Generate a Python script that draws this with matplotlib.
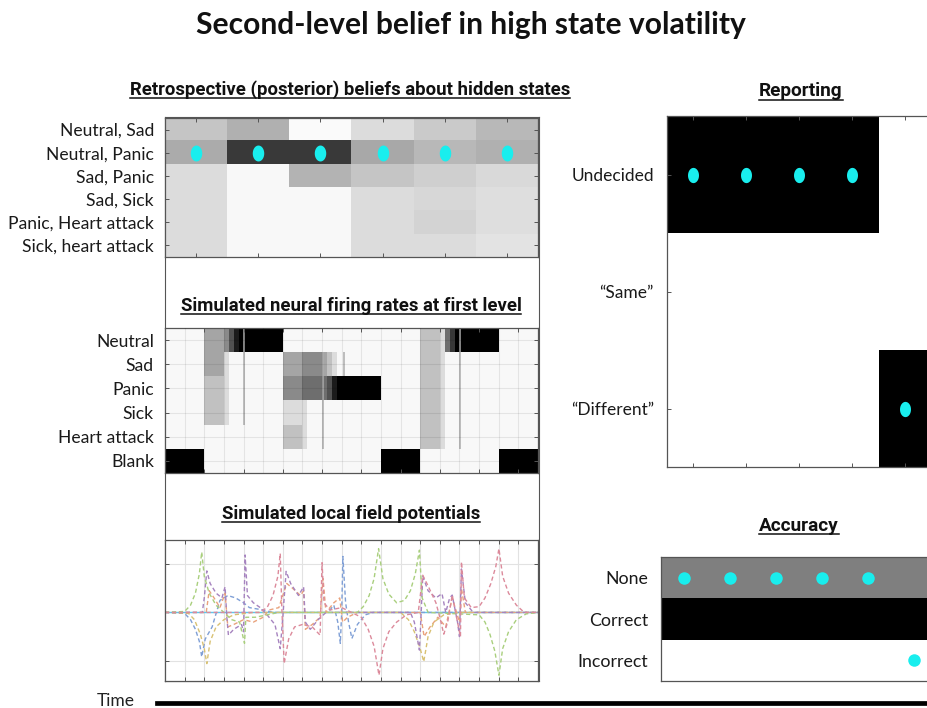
import numpy as np
import matplotlib.pyplot as plt
from matplotlib import font_manager
from matplotlib.lines import Line2D

plt.rcParams['font.family'] = ['Lato', 'DejaVu Sans']

installed = {f.name for f in font_manager.fontManager.ttflist}
HEAD_FONT = 'Liberation Sans Narrow' if 'Liberation Sans Narrow' in installed else 'Roboto'

# ---------------- data ----------------
belief_states = ['Neutral, Sad', 'Neutral, Panic', 'Sad, Panic', 'Sad, Sick',
                 'Panic, Heart attack', 'Sick, heart attack']
# posterior belief for each second-level state (rows) over the six trials
beliefs = [
    [0.23, 0.31, 0.02, 0.14, 0.21, 0.28],
    [0.33, 0.77, 0.77, 0.34, 0.28, 0.31],
    [0.14, 0.03, 0.30, 0.23, 0.19, 0.15],
    [0.14, 0.03, 0.03, 0.14, 0.16, 0.13],
    [0.14, 0.03, 0.03, 0.14, 0.17, 0.13],
    [0.14, 0.03, 0.03, 0.14, 0.14, 0.11],
]
true_state = [1, 1, 1, 1, 1, 1]

first_states = ['Neutral', 'Sad', 'Panic', 'Sick', 'Heart attack', 'Blank']
# firing rates: 19 time bins, 4 digits per bin (0 = silent .. 9 = maximal)
firing_rows = [
    '0000 0000 3333 4689 9999 9999 0000 0000 0000 0000 0000 0000 0000 2222 1579 9999 9999 0000 0000',
    '0000 0000 3333 1000 0000 0000 3333 4444 3210 0000 0000 0000 0000 2222 1000 0000 0000 0000 0000',
    '0000 0000 2222 1000 0000 0000 4444 5555 5689 9999 9999 0000 0000 2222 1000 0000 0000 0000 0000',
    '0000 0000 2222 1000 0000 0000 1111 1000 0000 0000 0000 0000 0000 2222 1000 0000 0000 0000 0000',
    '0000 0000 0000 0000 0000 0000 2222 1000 0000 0000 0000 0000 0000 2222 1000 0000 0000 0000 0000',
    '9999 9999 0000 0000 0000 0000 0000 0000 0000 0000 0000 9999 9999 0000 0000 0000 0000 9999 9999',
]
# brief transients (time, first row, last row)
flash_t = [4.0, 8.05, 9.1, 15.05]
flash_top = [0, 1, 1, 0]
flash_bottom = [3, 4, 1, 4]

# local field potentials (time bin, potential)
lfp_green = [(0, 0), (1.0, 0.02), (1.3, 0.15), (1.55, 0.4), (1.75, 0.8), (1.87, 1.25), (2.0, 0.75),
             (2.25, 0.4), (2.6, 0.15), (3.0, 0.0), (3.4, -0.15), (3.8, -0.2), (4.05, -0.64), (4.12, -0.1),
             (4.6, -0.1), (5.2, -0.05), (5.8, 0.0), (9.8, 0.0), (10.1, 0.12), (10.4, 0.35), (10.65, 0.7),
             (10.88, 1.32), (11.1, 0.7), (11.4, 0.38), (11.8, 0.2), (12.2, 0.25), (12.5, 0.45), (12.75, 0.8),
             (12.96, 1.29), (13.1, 0.3), (13.4, 0.0), (16.0, -0.05), (16.3, -0.2), (16.55, -0.45),
             (16.8, -0.8), (17.01, -1.3), (17.2, -0.75), (17.5, -0.4), (17.9, -0.15), (18.4, -0.03), (19, 0)]
lfp_yellow = [(0, 0), (1.2, -0.02), (1.5, -0.15), (1.8, -0.45), (2.0, -0.75), (2.13, -1.06), (2.3, -0.6),
              (2.6, -0.3), (3.0, -0.15), (3.5, -0.05), (4.5, 0.0), (12.0, 0.0), (12.4, -0.15), (12.7, -0.4),
              (13.0, -0.75), (13.18, -1.02), (13.4, -0.5), (13.7, -0.2), (14.2, -0.05), (15, 0), (19, 0)]
lfp_pink = [(0, 0), (4.8, 0.0), (5.2, 0.1), (5.5, 0.35), (5.75, 0.75), (5.87, 1.22), (5.95, 0.1), (6.07, -1.06),
            (6.3, -0.55), (6.6, -0.3), (7.0, -0.25), (7.5, -0.3), (7.9, -0.47), (8.0, 1.03), (8.1, 0.2),
            (8.4, 0.05), (9.0, 0.1), (9.5, 0.0), (10.0, -0.1), (10.35, -0.35), (10.65, -0.7), (10.9, -1.3),
            (11.1, -0.75), (11.4, -0.4), (11.8, -0.2), (12.3, -0.05), (12.9, 0.0), (13.13, 0.77), (13.4, 0.55),
            (13.8, 0.2), (14.0, -0.1), (14.2, -0.45), (14.4, -0.2), (14.63, 0.36), (14.85, -0.1), (15.05, -0.5),
            (15.1, 1.05), (15.25, 0.3), (15.6, 0.1), (16.0, 0.12), (16.3, 0.3), (16.6, 0.6), (16.85, 0.95),
            (17.01, 1.32), (17.2, 0.75), (17.5, 0.4), (17.9, 0.15), (18.3, 0.0), (19, 0)]
lfp_purple = [(0, 0), (1.9, 0.0), (2.0, 0.3), (2.13, 0.86), (2.3, 0.6), (2.6, 0.4), (2.9, 0.3), (3.06, 0.53),
              (3.15, -0.1), (3.23, -0.47), (3.5, -0.35), (3.9, -0.25), (4.0, -0.4), (4.08, 1.19), (4.2, 0.35),
              (4.5, 0.2), (4.85, 0.1), (5.2, -0.05), (5.6, -0.25), (5.87, -0.75), (6.0, -0.1), (6.17, 0.85),
              (6.4, 0.6), (6.8, 0.35), (7.06, 0.53), (7.15, -0.2), (7.4, -0.35), (7.8, -0.15), (8.2, 0.0),
              (12.5, 0.0), (12.7, -0.2), (12.96, -0.78), (13.05, 0.0), (13.13, 0.75), (13.4, 0.45), (13.8, 0.3),
              (14.11, 0.39), (14.3, 0.0), (14.5, 0.3), (14.63, 0.36), (14.9, -0.2), (15.0, -0.5), (15.1, 0.9),
              (15.3, 0.2), (15.7, 0.0), (19, 0)]
lfp_blue = [(0, 0), (1.0, -0.02), (1.3, -0.15), (1.55, -0.35), (1.75, -0.6), (1.87, -0.92), (2.05, -0.55),
            (2.4, -0.3), (2.8, 0.25), (3.2, 0.35), (3.6, 0.3), (4.0, 0.2), (4.3, 0.1), (5.0, 0.05), (5.5, 0.0),
            (8.3, 0.0), (8.6, 0.15), (8.8, -0.2), (8.93, -0.64), (9.0, 0.0), (9.06, 1.16), (9.2, 0.2),
            (9.35, -0.2), (9.52, -0.54), (9.8, -0.25), (10.2, -0.05), (10.6, 0.0), (19, 0)]
lfp_orange = [(0, 0), (2.1, 0.0), (2.25, 0.45), (2.5, 0.3), (2.8, 0.1), (3.06, 0.4), (3.2, -0.3), (3.5, -0.25),
              (4.0, -0.15), (4.5, -0.2), (5.0, -0.1), (5.3, 0.05), (5.8, 0.1), (6.2, 0.6), (6.5, 0.5),
              (6.9, 0.35), (7.06, 0.45), (7.15, -0.35), (7.5, -0.25), (7.9, -0.1), (8.05, 0.7), (8.2, 0.0),
              (8.6, 0.2), (8.9, 0.3), (9.05, -0.2), (9.3, -0.1), (9.8, 0.0), (13.0, 0.0), (13.2, -0.5),
              (13.5, -0.3), (13.9, -0.1), (14.3, -0.3), (14.63, 0.3), (15.0, -0.2), (15.1, 0.5), (15.3, 0.0),
              (19, 0)]
lfp_baseline = [(0, 0), (19, 0)]

report_options = ['Undecided', '\u201cSame\u201d', '\u201cDifferent\u201d']
report = [
    [1, 1, 1, 1, 0, 0],
    [0, 0, 0, 0, 0, 0],
    [0, 0, 0, 0, 1, 1],
]
report_choice = [0, 0, 0, 0, 2, 2]

accuracy_options = ['None', 'Correct', 'Incorrect']
accuracy = [
    [0.5, 0.5, 0.5, 0.5, 0.5, 0.5],
    [1, 1, 1, 1, 1, 1],
    [0, 0, 0, 0, 0, 0],
]
accuracy_outcome = [0, 0, 0, 0, 0, 2]

# ---------------- layout helpers ----------------
W, H = 928, 708
CYAN = '#19eeee'
EDGE = '#555555'
theta = np.linspace(0, 2 * np.pi, 41)
OVAL = np.column_stack([0.72 * np.cos(theta), np.sin(theta)])

fig = plt.figure(figsize=(W / 100, H / 100), dpi=100)
renderer = fig.canvas.get_renderer()


def box(x0, y0, x1, y1):
    return [x0 / W, 1 - y1 / H, (x1 - x0) / W, (y1 - y0) / H]


def style(ax, pad=8, size=12.6):
    ax.tick_params(direction='in', length=3, width=0.7, color=EDGE, top=True, right=True,
                   labelbottom=False, labelsize=size, pad=pad, labelcolor='#1a1a1a')
    for s in ax.spines.values():
        s.set_color(EDGE)
        s.set_linewidth(0.9)


def heading(px, py, s, width):
    # bold underlined panel heading, sized to span the given pixel width
    t = fig.text(px / W, 1 - py / H, s, ha='center', va='baseline', family=HEAD_FONT,
                 weight='bold', size=10, color='#111111')
    t.set_fontsize(10 * width / t.get_window_extent(renderer).width)
    bb = t.get_window_extent(renderer)
    y = 1 - (py + 3) / H
    fig.add_artist(Line2D([bb.x0 / W, bb.x1 / W], [y, y], transform=fig.transFigure,
                          color='#111111', lw=1.1))


# frame around the left column
frame = fig.add_axes(box(165, 117, 539, 681))
frame.set_xticks([])
frame.set_yticks([])
for s in frame.spines.values():
    s.set_color(EDGE)

# ---- posterior beliefs ----
ax = fig.add_axes(box(165, 118, 538, 257))
ax.imshow(beliefs, cmap='gray_r', vmin=0, vmax=1, aspect='auto', interpolation='nearest')
ax.plot(range(len(true_state)), true_state, ls='none', marker=OVAL, ms=11.5, mew=0, color=CYAN)
ax.set_xticks(range(6))
ax.set_yticks(range(6))
ax.set_yticklabels(belief_states)
ax.set_xlim(-0.5, 5.5)
ax.set_ylim(5.5, -0.5)
style(ax)

# ---- first level firing rates ----
ax = fig.add_axes(box(165, 328, 538, 473))
rates = np.array([[int(c) for c in row.replace(' ', '')] for row in firing_rows]) / 9
ax.imshow(rates, cmap='gray_r', vmin=-0.03, vmax=1, aspect='auto', interpolation='nearest',
          extent=(0, 19, 5.5, -0.5))
ax.vlines(flash_t, np.array(flash_top) - 0.5, np.array(flash_bottom) + 0.5, color='#adadad', lw=1.1)
ax.set_xticks(range(2, 19, 2))
ax.set_xticks(range(1, 19), minor=True)
ax.set_yticks(range(6))
ax.set_yticklabels(first_states)
ax.set_xlim(0, 19)
ax.set_ylim(5.5, -0.5)
style(ax)
ax.tick_params(which='minor', length=0)
ax.set_axisbelow(False)
ax.grid(which='both', color='black', alpha=0.08, lw=0.8)

# ---- local field potentials ----
ax = fig.add_axes(box(165, 540, 538, 681))
traces = [(lfp_baseline, '#5cc8ee', '-'), (lfp_blue, '#7f9fd6', '--'), (lfp_orange, '#e9a27c', '--'),
          (lfp_yellow, '#d8c173', '--'), (lfp_purple, '#a683bf', '--'), (lfp_green, '#a9cf7d', '--'),
          (lfp_pink, '#dc8a9b', '--')]
for pts, col, ls in traces:
    t, v = zip(*pts)
    ax.plot(t, v, color=col, ls=ls, lw=1.0, dashes=(3, 2) if ls == '--' else (None, None))
ax.set_xlim(0, 19)
ax.set_ylim(-1.42, 1.5)
ax.set_xticks(range(1, 19))
ax.set_yticks([-1, 0, 1])
ax.tick_params(labelleft=False)
style(ax)
ax.set_axisbelow(True)
ax.grid(color='#e2e2e2', lw=0.8)

# ---- reporting ----
ax = fig.add_axes(box(667, 116, 985, 467))
ax.imshow(report, cmap='gray_r', vmin=0, vmax=1, aspect='auto', interpolation='nearest')
ax.plot(range(len(report_choice)), report_choice, ls='none', marker=OVAL, ms=11, mew=0, color=CYAN)
ax.set_xticks(range(6))
ax.set_yticks(range(3))
ax.set_yticklabels(report_options)
ax.set_xlim(-0.5, 5.5)
ax.set_ylim(2.5, -0.5)
style(ax, pad=9.5, size=12.5)

# ---- accuracy ----
ax = fig.add_axes(box(661, 557, 937, 681))
ax.imshow(accuracy, cmap='gray_r', vmin=0, vmax=1, aspect='auto', interpolation='nearest')
ax.plot(range(len(accuracy_outcome)), accuracy_outcome, ls='none', marker='o', ms=9, mew=0, color=CYAN)
ax.set_xticks([])
ax.set_yticks(range(3))
ax.set_yticklabels(accuracy_options)
ax.set_xlim(-0.5, 5.5)
ax.set_ylim(2.5, -0.5)
style(ax, pad=9, size=12.8)
ax.tick_params(length=0)

# ---- titles ----
fig.text(471 / W, 1 - 34 / H, 'Second-level belief in high state volatility', ha='center', va='baseline',
         weight='bold', size=21.6, color='#111111')
heading(350, 95, 'Retrospective (posterior) beliefs about hidden states', 441)
heading(351, 311, 'Simulated neural firing rates at first level', 340)
heading(351, 519, 'Simulated local field potentials', 259)
heading(801, 96.5, 'Reporting', 84)
heading(799, 531, 'Accuracy', 80)

# time arrow
fig.text(116 / W, 1 - 701 / H, 'Time', ha='center', va='center', size=12.5, color='#222222')
fig.add_artist(Line2D([157 / W, 1], [1 - 702.5 / H] * 2, transform=fig.transFigure, color='black', lw=3.4))

fig.savefig('out.png', dpi=100)
